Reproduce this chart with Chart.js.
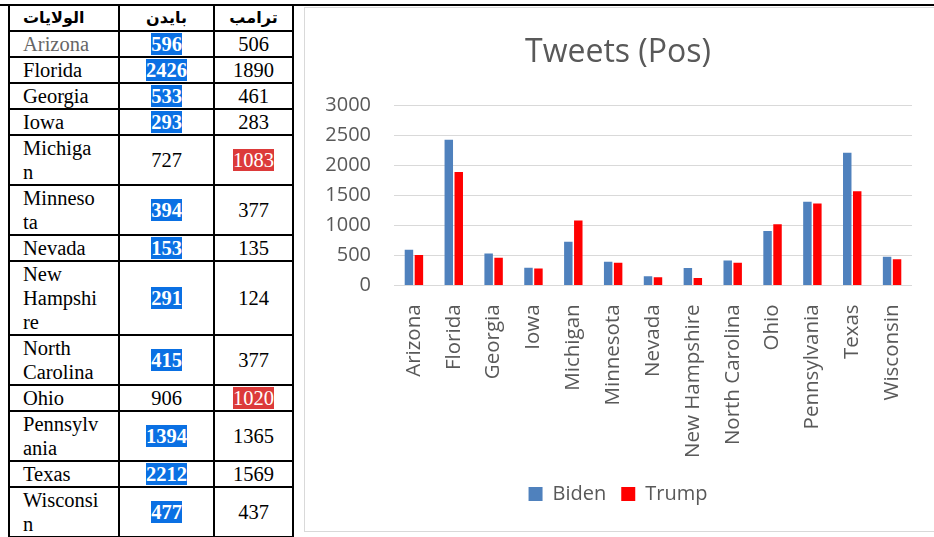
<!DOCTYPE html>
<html lang="en">
<head>
<meta charset="UTF-8">
<title>Tweets (Pos)</title>
<script src="https://cdn.jsdelivr.net/npm/chart.js"></script>
<style>
  body { margin: 0; width: 934px; height: 537px; overflow: hidden; background: #fff; position: relative; }
  #topline { position: absolute; left: 0; top: 4px; width: 934px; height: 2px; background: #000; }
  table { position: absolute; left: 8px; top: 4px; border-collapse: collapse; table-layout: fixed; width: 284px;
          font-family: "Liberation Serif", "Times New Roman", serif; font-size: 20.5px; line-height: 24px; color: #000; }
  td, th { border: 2px solid #000; padding: 0; text-align: center; vertical-align: middle; }
  td.st, th.st { text-align: left; padding: 0 18px 0 13px; overflow-wrap: anywhere; }
  th { font-family: "DejaVu Sans", sans-serif; font-weight: bold; font-size: 16px; height: 24px; }
  .win-b { background: #0a70e3; color: #fff; font-weight: bold; }
  .win-t { background: #dc3a3a; color: #fff; }
  .grey { color: #666; }
  #box { position: absolute; left: 304px; top: 7px; width: 640px; height: 523px; border: 1px solid #d9d9d9; }
  #myChart { position: absolute; left: 0; top: 0; }
</style>
</head>
<body>
<div id="topline"></div>
<table id="tbl">
  <colgroup><col style="width:110px"><col style="width:95px"><col style="width:79px"></colgroup>
  <thead><tr><th class="st">الولايات</th><th>بايدن</th><th>ترامب</th></tr></thead>
  <tbody></tbody>
</table>
<div id="box"><canvas id="myChart" width="630" height="523"></canvas></div>

<script>
var states = ['Arizona', 'Florida', 'Georgia', 'Iowa', 'Michigan', 'Minnesota', 'Nevada',
              'New Hampshire', 'North Carolina', 'Ohio', 'Pennsylvania', 'Texas', 'Wisconsin'];
var biden = [596, 2426, 533, 293, 727, 394, 153, 291, 415, 906, 1394, 2212, 477];
var trump = [506, 1890, 461, 283, 1083, 377, 135, 124, 377, 1020, 1365, 1569, 437];
var yTicks = [0, 500, 1000, 1500, 2000, 2500, 3000];

// build the table rows
var tbody = document.querySelector('#tbl tbody');
for (var i = 0; i < states.length; i++) {
    var tr = document.createElement('tr');
    var b = biden[i] > trump[i] ? '<span class="win-b">' + biden[i] + '</span>' : biden[i];
    var t = trump[i] > biden[i] ? '<span class="win-t">' + trump[i] + '</span>' : trump[i];
    tr.innerHTML = '<td class="st' + (i == 0 ? ' grey' : '') + '">' + states[i] + '</td><td>' + b + '</td><td>' + t + '</td>';
    tbody.appendChild(tr);
}

Chart.defaults.font.family = 'Open Sans';
Chart.defaults.color = '#595959';

const ctx = document.getElementById('myChart').getContext('2d');
new Chart(ctx, {
  type: 'bar',
  data: {
    labels: states,
    datasets: [
      { label: 'Biden', data: biden, backgroundColor: '#4f81bd' },
      { label: 'Trump', data: trump, backgroundColor: '#ff0000' }
    ]
  },
  options: {
    responsive: false,
    animation: false,
    layout: { padding: { top: 26, right: 23, bottom: 17, left: 19 } },
    datasets: { bar: { categoryPercentage: 0.5, barPercentage: 0.85 } },
    plugins: {
      title: { display: true, text: 'Tweets (Pos)', color: '#595959',
               font: { size: 32, weight: 'normal' }, padding: { top: 0, bottom: 33 } },
      legend: { position: 'bottom',
                labels: { boxWidth: 14, boxHeight: 14, font: { size: 20 }, padding: 15 } },
      tooltip: { enabled: false }
    },
    scales: {
      x: {
        grid: { display: false },
        border: { display: false },
        ticks: { font: { size: 20.5 }, minRotation: 90, maxRotation: 90, autoSkip: false, padding: 11 }
      },
      y: {
        min: 0, max: 3000,
        afterBuildTicks: function(axis) { axis.ticks = yTicks.map(function(v) { return { value: v }; }); },
        afterFit: function(axis) { axis.width = 70; },
        grid: { color: '#d9d9d9', drawTicks: false },
        border: { display: false },
        ticks: { font: { size: 20 }, padding: 23, callback: function(v) { return String(v); } }
      }
    }
  }
});
</script>
</body>
</html>
